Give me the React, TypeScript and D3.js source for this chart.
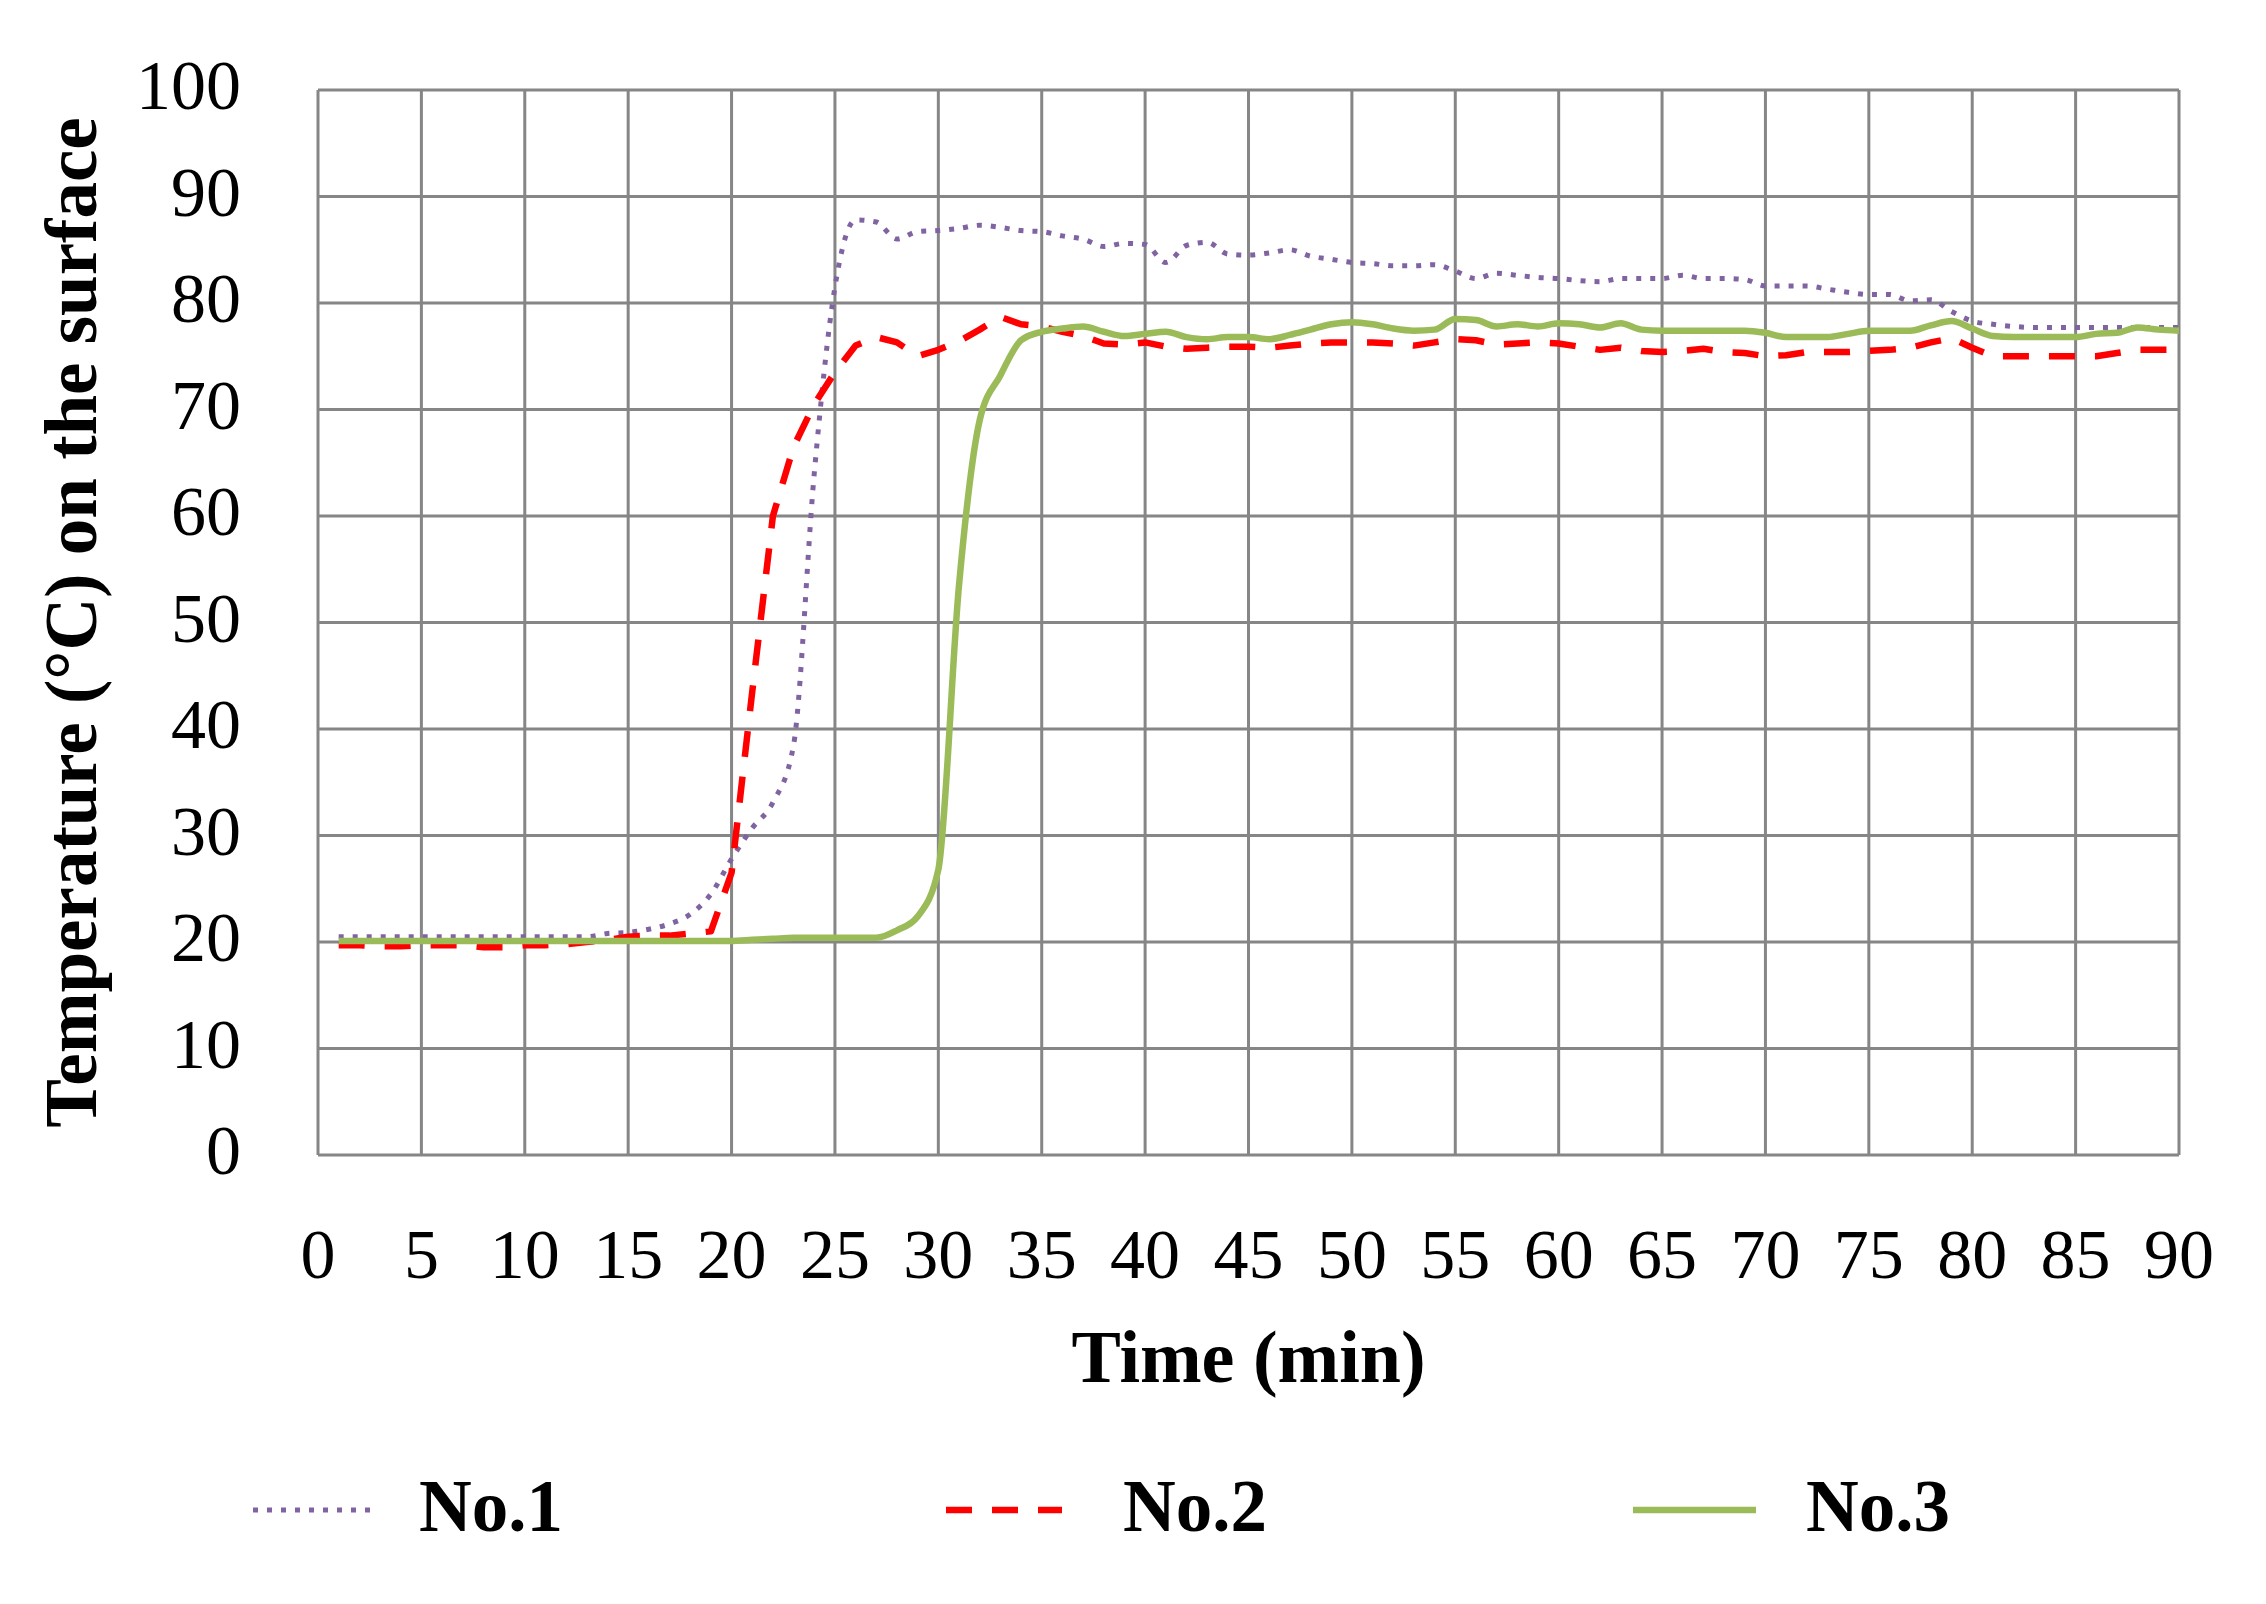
import React, { useEffect } from 'react';
import * as d3 from 'd3';

// Time (min) of each reading
const minutes = [
  1, 2, 3, 4, 5, 6, 7, 8, 9, 10, 11, 12, 13, 14, 15, 16, 17, 18, 19, 20,
  21, 22, 23, 24, 25, 26, 27, 28, 29, 30, 31, 32, 33, 34, 35, 36, 37, 38, 39, 40,
  41, 42, 43, 44, 45, 46, 47, 48, 49, 50, 51, 52, 53, 54, 55, 56, 57, 58, 59, 60,
  61, 62, 63, 64, 65, 66, 67, 68, 69, 70, 71, 72, 73, 74, 75, 76, 77, 78, 79, 80,
  81, 82, 83, 84, 85, 86, 87, 88, 89, 90,
];

const no1 = [
  20.5, 20.5, 20.5, 20.5, 20.5, 20.5, 20.5, 20.5, 20.5, 20.5,
  20.5, 20.5, 20.5, 20.8, 20.9, 21.2, 21.7, 22.6, 24.5, 27.8,
  30.7, 33.1, 38.5, 64.0, 81.5, 87.8, 87.6, 86.0, 86.7, 86.8,
  87.0, 87.3, 87.1, 86.8, 86.7, 86.3, 86.0, 85.3, 85.6, 85.5,
  83.8, 85.4, 85.7, 84.6, 84.5, 84.7, 85.0, 84.4, 84.1, 83.8,
  83.7, 83.5, 83.5, 83.6, 83.0, 82.3, 82.8, 82.6, 82.4, 82.3,
  82.1, 82.0, 82.3, 82.3, 82.3, 82.6, 82.3, 82.3, 82.2, 81.6,
  81.6, 81.6, 81.3, 81.0, 80.8, 80.8, 80.2, 80.3, 79.2, 78.3,
  78.0, 77.8, 77.7, 77.7, 77.7, 77.7, 77.7, 77.7, 77.7, 77.7,
];

const no2 = [
  19.7, 19.7, 19.6, 19.6, 19.7, 19.7, 19.7, 19.5, 19.5, 19.7,
  19.7, 19.8, 20.0, 20.2, 20.5, 20.6, 20.6, 20.8, 21.0, 26.5,
  43.5, 60.0, 66.5, 70.5, 73.5, 76.0, 76.8, 76.3, 75.0, 75.6,
  76.4, 77.5, 78.7, 78.0, 77.8, 77.3, 76.9, 76.2, 76.1, 76.3,
  75.9, 75.7, 75.8, 75.9, 75.9, 75.8, 76.0, 76.2, 76.3, 76.3,
  76.3, 76.2, 76.0, 76.3, 76.6, 76.5, 76.1, 76.2, 76.3, 76.2,
  75.9, 75.6, 75.8, 75.5, 75.4, 75.5, 75.7, 75.4, 75.3, 75.0,
  75.1, 75.4, 75.4, 75.4, 75.5, 75.6, 75.8, 76.3, 76.7, 75.8,
  75.0, 75.0, 75.0, 75.0, 75.0, 75.0, 75.3, 75.6, 75.6, 75.6,
];

const no3 = [
  20.1, 20.1, 20.1, 20.1, 20.1, 20.1, 20.1, 20.1, 20.1, 20.1,
  20.1, 20.1, 20.1, 20.1, 20.1, 20.1, 20.1, 20.1, 20.1, 20.1,
  20.2, 20.3, 20.4, 20.4, 20.4, 20.4, 20.4, 21.1, 22.4, 26.8,
  53.5, 69.0, 73.2, 76.5, 77.3, 77.6, 77.8, 77.3, 76.9, 77.1,
  77.3, 76.8, 76.6, 76.8, 76.8, 76.6, 77.0, 77.5, 78.0, 78.2,
  78.0, 77.6, 77.4, 77.5, 78.5, 78.4, 77.8, 78.0, 77.8, 78.1,
  78.0, 77.7, 78.1, 77.5, 77.4, 77.4, 77.4, 77.4, 77.4, 77.2,
  76.8, 76.8, 76.8, 77.1, 77.4, 77.4, 77.4, 77.9, 78.3, 77.6,
  76.9, 76.8, 76.8, 76.8, 76.8, 77.1, 77.2, 77.7, 77.5, 77.4,
];

const seriesNames = ['No.1', 'No.2', 'No.3'];
const xTicks = [0, 5, 10, 15, 20, 25, 30, 35, 40, 45, 50, 55, 60, 65, 70, 75, 80, 85, 90];
const yTicks = [0, 10, 20, 30, 40, 50, 60, 70, 80, 90, 100];
const xTitle = 'Time (min)';
const yTitle = 'Temperature (°C) on the surface';

const W = 2266;
const H = 1604;
const PL = 318;
const PR = 2179;
const PT = 90;
const PB = 1155;
const FONT = '"Liberation Serif", "Times New Roman", serif';
const GRID = '#868686';

export default function App() {
  useEffect(() => {
    document.body.style.margin = '0';
  }, []);

  const x = d3.scaleLinear().domain([0, 90]).range([PL, PR]);
  const y = d3.scaleLinear().domain([0, 100]).range([PB, PT]);

  const styles = [
    { color: '#8064A2', width: 5, dash: '5 9', curve: d3.curveMonotoneX },
    { color: '#FF0000', width: 6.5, dash: '26 20', curve: d3.curveLinear },
    { color: '#9BBB59', width: 6.5, dash: undefined as string | undefined, curve: d3.curveMonotoneX },
  ];
  const data = [no1, no2, no3];

  const paths = data.map((vals, i) => {
    const line = d3
      .line<number>()
      .x((_, j) => x(minutes[j]))
      .y((v) => y(v))
      .curve(styles[i].curve);
    return line(vals) || '';
  });

  const legendLine0 = [253, 946, 1633];
  const legendLine1 = [376, 1062, 1756];
  const legendText = [419, 1123, 1806];
  const legendY = 1510;

  return (
    <svg width={W} height={H} style={{ position: 'absolute', left: 0, top: 0, background: '#fff' }}>
      <rect x={0} y={0} width={W} height={H} fill="#fff" />
      {/* grid */}
      <g stroke={GRID} strokeWidth={3} fill="none">
        {yTicks.map((t) => (
          <line key={'gy' + t} x1={PL} x2={PR} y1={y(t)} y2={y(t)} />
        ))}
        {xTicks.map((t) => (
          <line key={'gx' + t} x1={x(t)} x2={x(t)} y1={PT} y2={PB} />
        ))}
      </g>
      {/* y tick labels */}
      <g fontFamily={FONT} fontSize={70} fill="#000">
        {yTicks.map((t) => (
          <text key={'ly' + t} x={241} y={y(t) + 19} textAnchor="end">
            {t}
          </text>
        ))}
        {xTicks.map((t) => (
          <text key={'lx' + t} x={x(t)} y={1278} textAnchor="middle">
            {t}
          </text>
        ))}
      </g>
      {/* series */}
      <g fill="none">
        {paths.map((d, i) => (
          <path
            key={'s' + i}
            d={d}
            stroke={styles[i].color}
            strokeWidth={styles[i].width}
            strokeDasharray={styles[i].dash}
            strokeLinejoin="round"
            strokeLinecap="butt"
          />
        ))}
      </g>
      {/* axis titles */}
      <text
        x={(PL + PR) / 2}
        y={1382}
        textAnchor="middle"
        fontFamily={FONT}
        fontWeight="bold"
        fontSize={74}
        fill="#000"
      >
        {xTitle}
      </text>
      <text
        transform={`translate(96, ${(PT + PB) / 2}) rotate(-90)`}
        textAnchor="middle"
        fontFamily={FONT}
        fontWeight="bold"
        fontSize={73}
        fill="#000"
      >
        {yTitle}
      </text>
      {/* legend */}
      {seriesNames.map((name, i) => (
        <g key={'lg' + i}>
          <line
            x1={legendLine0[i]}
            x2={legendLine1[i]}
            y1={legendY}
            y2={legendY}
            stroke={styles[i].color}
            strokeWidth={styles[i].width}
            strokeDasharray={styles[i].dash}
          />
          <text
            x={legendText[i]}
            y={1531}
            fontFamily={FONT}
            fontWeight="bold"
            fontSize={73}
            fill="#000"
          >
            {name}
          </text>
        </g>
      ))}
    </svg>
  );
}
